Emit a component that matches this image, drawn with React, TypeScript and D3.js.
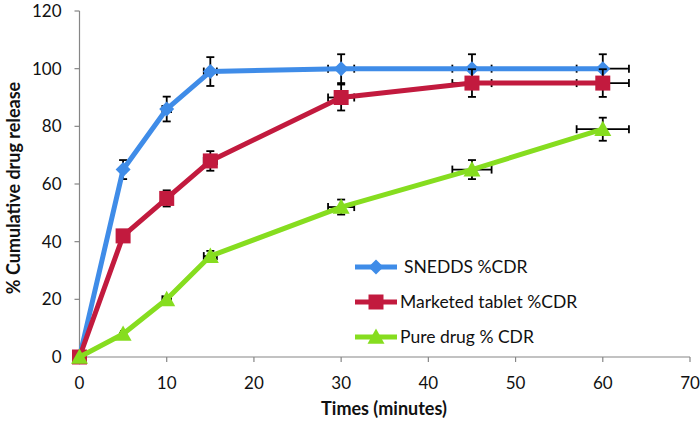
import React from "react";
import * as d3 from "d3";

const times = [0, 5, 10, 15, 30, 45, 60];
const sneddsValues = [0, 65, 86, 99, 100, 100, 100];
const marketedValues = [0, 42, 55, 68, 90, 95, 95];
const pureValues = [0, 8, 20, 35, 52, 65, 79];
const sneddsErr = [0, 3.3, 4.3, 5, 5, 5, 5];
const marketedErr = [0, 2.1, 2.8, 3.4, 4.5, 4.8, 4.8];
const pureErr = [0, 0.4, 1, 1.8, 2.6, 3.3, 4];
const timeErr = [0, 0.25, 0.5, 0.75, 1.5, 2.25, 3];
const xTicks = [0, 10, 20, 30, 40, 50, 60, 70];
const yTicks = [0, 20, 40, 60, 80, 100, 120];
const seriesNames = ["SNEDDS %CDR", "Marketed tablet %CDR", "Pure drug % CDR"];
const seriesColors = ["#3f8ce8", "#c21a3e", "#86dd1f"];
const seriesMarkers = ["diamond", "square", "triangle"];

const W = 700;
const H = 425;
const FONT = "Lato, 'Open Sans', sans-serif";

export default function App() {
  const x = d3.scaleLinear().domain([0, 70]).range([79.5, 690]);
  const y = d3.scaleLinear().domain([0, 120]).range([357, 11]);
  const allValues = [sneddsValues, marketedValues, pureValues];
  const allErr = [sneddsErr, marketedErr, pureErr];
  const line = d3
    .line<[number, number]>()
    .x((d) => x(d[0]))
    .y((d) => y(d[1]));

  const markerPath = (kind: string, cx: number, cy: number) => {
    if (kind === "diamond") {
      const r = 7.5;
      return `M${cx},${cy - r}L${cx + r},${cy}L${cx},${cy + r}L${cx - r},${cy}Z`;
    }
    if (kind === "square") {
      const r = 7.5;
      return `M${cx - r},${cy - r}H${cx + r}V${cy + r}H${cx - r}Z`;
    }
    const r = 8.5;
    return `M${cx},${cy - r}L${cx + r},${cy + r * 0.8}L${cx - r},${cy + r * 0.8}Z`;
  };

  const cap = 4;

  return (
    <svg
      width={W}
      height={H}
      style={{ position: "absolute", left: 0, top: 0, background: "#fff" }}
      fontFamily={FONT}
    >
      {/* axes */}
      <line x1={x(0)} x2={x(70)} y1={y(0)} y2={y(0)} stroke="#868686" strokeWidth={1.2} />
      <line x1={x(0)} x2={x(0)} y1={y(0)} y2={y(120)} stroke="#868686" strokeWidth={1.2} />
      {xTicks.map((t) => (
        <g key={"xt" + t}>
          <line x1={x(t)} x2={x(t)} y1={y(0)} y2={y(0) + 5} stroke="#868686" strokeWidth={1.2} />
          <text x={x(t)} y={y(0) + 31.5} textAnchor="middle" fontSize={17} fill="#111">
            {t}
          </text>
        </g>
      ))}
      {yTicks.map((t) => (
        <g key={"yt" + t}>
          <line x1={x(0) - 5} x2={x(0)} y1={y(t)} y2={y(t)} stroke="#868686" strokeWidth={1.2} />
          <text x={x(0) - 18} y={y(t) + 6} textAnchor="end" fontSize={17} fill="#111">
            {t}
          </text>
        </g>
      ))}
      <text x={384} y={415} textAnchor="middle" fontSize={18} fontWeight="bold" fill="#111">
        Times (minutes)
      </text>
      <text
        transform={`translate(20,188) rotate(-90)`}
        textAnchor="middle"
        fontSize={18}
        fontWeight="bold"
        fill="#111"
      >
        % Cumulative drug release
      </text>

      {/* series */}
      {allValues.map((vals, si) => {
        const pts: [number, number][] = times.map((t, i) => [t, vals[i]]);
        const errs = allErr[si];
        return (
          <g key={"s" + si}>
            {times.map((t, i) => {
              const cx = x(t);
              const cy = y(vals[i]);
              const ey = errs[i];
              const ex = timeErr[i];
              if (ey === 0 && ex === 0) return null;
              const yTop = y(vals[i] + ey);
              const yBot = y(vals[i] - ey);
              const xL = x(t - ex);
              const xR = x(t + ex);
              return (
                <g key={"e" + i} stroke="#000" strokeWidth={1.8} fill="none">
                  <line x1={cx} x2={cx} y1={yTop} y2={yBot} />
                  <line x1={cx - cap} x2={cx + cap} y1={yTop} y2={yTop} />
                  <line x1={cx - cap} x2={cx + cap} y1={yBot} y2={yBot} />
                  <line x1={xL} x2={xR} y1={cy} y2={cy} />
                  <line x1={xL} x2={xL} y1={cy - cap} y2={cy + cap} />
                  <line x1={xR} x2={xR} y1={cy - cap} y2={cy + cap} />
                </g>
              );
            })}
            <path d={line(pts) || ""} fill="none" stroke={seriesColors[si]} strokeWidth={5} strokeLinejoin="round" />
            {pts.map((p, i) => (
              <path key={"m" + i} d={markerPath(seriesMarkers[si], x(p[0]), y(p[1]))} fill={seriesColors[si]} />
            ))}
          </g>
        );
      })}

      {/* legend */}
      {seriesNames.map((name, i) => {
        const ly = 267 + i * 35;
        return (
          <g key={"lg" + i}>
            <line x1={355} x2={397} y1={ly} y2={ly} stroke={seriesColors[i]} strokeWidth={5} />
            <path d={markerPath(seriesMarkers[i], 376, ly)} fill={seriesColors[i]} />
            <text x={i === 0 ? 404 : 400} y={ly + 6} fontSize={17.5} fill="#111">
              {name}
            </text>
          </g>
        );
      })}
    </svg>
  );
}
